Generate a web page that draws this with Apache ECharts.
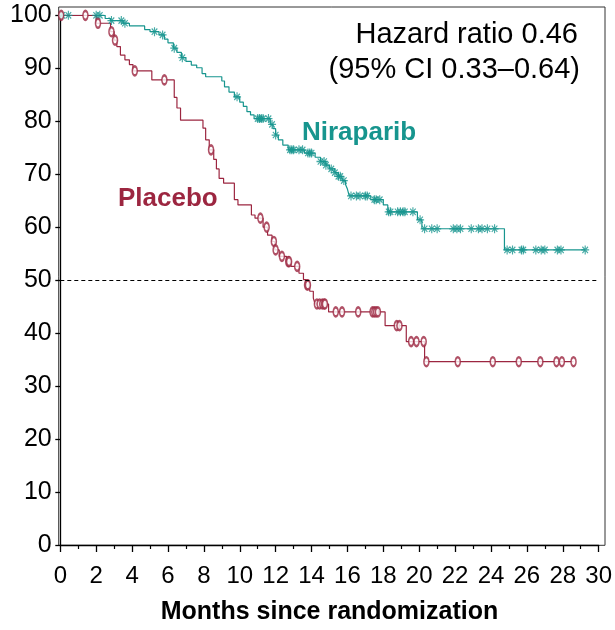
<!DOCTYPE html>
<html>
<head>
<meta charset="utf-8">
<script src="https://cdn.jsdelivr.net/npm/echarts@6/dist/echarts.min.js"></script>
<style>
  html, body { margin: 0; padding: 0; background: #fff; }
  #main { width: 615px; height: 630px; }
</style>
</head>
<body>
<div id="main"></div>
<script>
// Kaplan-Meier steps: [month, % surviving after the step]
var niraparibSteps = [
    [0, 100], [2.5, 99.4], [2.8, 99.0], [3.5, 98.5], [3.85, 98.0], [4.7, 97.3], [5.0, 96.9],
    [5.5, 96.3], [5.8, 95.5], [6.0, 94.8], [6.3, 93.8], [6.5, 93.0], [6.75, 92.0], [7.0, 91.3],
    [7.3, 90.6], [7.6, 90.1], [7.9, 89.0], [8.1, 88.4], [9.0, 87.6], [9.15, 86.5], [9.4, 85.5],
    [9.7, 84.6], [10.0, 83.6], [10.2, 82.8], [10.4, 81.8], [10.6, 81.2], [10.8, 80.5],
    [11.7, 79.4], [11.85, 78.6], [12.0, 77.4], [12.15, 76.5], [12.4, 75.5], [12.7, 74.6],
    [13.6, 74.0], [14.2, 73.2], [14.5, 72.4], [14.8, 71.7], [15.0, 71.0], [15.3, 70.3],
    [15.5, 69.6], [15.7, 68.8], [15.9, 68.0], [16.0, 67.2], [16.1, 65.9], [17.3, 65.2],
    [18.0, 64.2], [18.25, 62.9], [19.9, 61.4], [20.15, 59.7], [24.75, 55.7]
];
var niraparibEnd = 29.25;
var niraparibCensored = [
    0.1, 0.45, 2.0, 2.2, 2.85, 3.4, 3.6, 5.25, 5.7, 6.35, 6.8, 9.85, 11.0, 11.1, 11.2, 11.3,
    11.6, 11.8, 12.0, 12.8, 12.9, 13.0, 13.3, 13.5, 13.8, 13.9, 14.0, 14.5, 14.7, 14.8, 15.1,
    15.3, 15.5, 15.6, 15.8, 16.2, 16.5, 16.7, 17.0, 17.1, 17.5, 17.6, 17.8, 18.3, 18.4, 18.8,
    18.95, 19.1, 19.2, 19.65, 20.05, 20.3, 20.7, 21.0, 21.9, 22.1, 22.3, 22.9, 23.3, 23.5,
    23.8, 24.2, 24.9, 25.2, 25.7, 25.8, 26.5, 26.8, 27.0, 27.7, 27.9, 29.25
];

var placeboSteps = [
    [0, 100], [2.0, 98.5], [2.8, 96.9], [3.0, 95.3], [3.15, 94.1], [3.35, 92.5], [3.6, 91.6],
    [3.85, 90.7], [4.05, 89.5], [5.1, 87.8], [6.35, 84.5], [6.5, 82.5], [6.7, 80.2],
    [7.95, 78.7], [8.1, 76.5], [8.3, 74.6], [8.55, 72.8], [8.7, 71.0], [8.85, 69.2],
    [9.1, 68.3], [9.7, 65.2], [9.9, 64.2], [10.65, 62.3], [10.85, 61.7], [11.3, 60.0],
    [11.55, 58.5], [11.8, 57.3], [11.95, 55.7], [12.2, 54.5], [12.6, 53.5], [12.85, 52.6],
    [13.3, 51.3], [13.55, 50.1], [13.7, 49.1], [13.9, 47.9], [14.1, 46.6], [14.2, 45.5],
    [14.95, 44.0], [18.1, 41.4], [19.28, 38.4], [20.3, 34.6]
];
var placeboEnd = 28.6;
var placeboCensored = [
    0.05, 1.4, 2.1, 2.85, 3.05, 4.15, 5.8, 8.4, 11.15, 11.5, 11.9, 12.0, 12.35, 12.7, 12.75,
    13.2, 13.75, 13.8, 14.3, 14.45, 14.6, 14.7, 14.75, 15.35, 15.7, 16.6, 17.4, 17.5, 17.6,
    17.7, 18.75, 18.9, 19.55, 19.85, 20.25, 20.4, 22.15, 24.1, 25.55, 26.75, 27.65, 27.95, 28.6
];

var tealColor = '#17958e';
var redColor = '#9c2640';

// value of a step curve at time t
function survivalAt(steps, t) {
    var v = steps[0][1];
    for (var i = 0; i < steps.length; i++) {
        if (steps[i][0] <= t) v = steps[i][1];
    }
    return v;
}

function curveData(steps, end) {
    var d = steps.slice();
    d.push([end, survivalAt(steps, end)]);
    return d;
}

function censorData(steps, times) {
    return times.map(function (t) { return [t, survivalAt(steps, t)]; });
}

var myChart = echarts.init(document.getElementById('main'));

var option = {
    animation: false,
    grid: { left: 60.3, right: 13.3, top: 15.3, bottom: 84.7 },
    xAxis: {
        type: 'value', min: 0, max: 30, interval: 2,
        name: 'Months since randomization',
        nameLocation: 'middle', nameGap: 55,
        nameTextStyle: { fontFamily: 'Liberation Sans', fontWeight: 'bold', fontSize: 25, color: '#000' },
        axisLine: { lineStyle: { color: '#000', width: 1.3 } },
        axisTick: { length: 7, lineStyle: { color: '#000', width: 1.3 } },
        minorTick: { show: true, splitNumber: 2, length: 4, lineStyle: { color: '#000', width: 1.2 } },
        axisLabel: { fontFamily: 'Liberation Sans', fontSize: 24, color: '#000', margin: 19 },
        splitLine: { show: false }
    },
    yAxis: {
        type: 'value', min: 0, max: 100, interval: 10, offset: 1.6,
        axisLine: { show: true, lineStyle: { color: '#000', width: 1.3 } },
        axisTick: { show: true, length: 5, lineStyle: { color: '#000', width: 1.3 } },
        axisLabel: { fontFamily: 'Liberation Sans', fontSize: 25, color: '#000', margin: 7 },
        splitLine: { show: false }
    },
    graphic: [
        {
            type: 'rect', silent: true, z: 0,
            shape: { x: 58.7, y: 7, width: 546.3, height: 538.3 },
            style: { fill: 'none', stroke: '#333', lineWidth: 1 }
        },
        {
            type: 'text', right: 615 - 578, top: 20,
            style: { text: 'Hazard ratio 0.46', fontFamily: 'Liberation Sans', fontSize: 29, fill: '#000', textAlign: 'right' }
        },
        {
            type: 'text', right: 615 - 580, top: 55,
            style: { text: '(95% CI 0.33\u20130.64)', fontFamily: 'Liberation Sans', fontSize: 29, fill: '#000', textAlign: 'right' }
        },
        {
            type: 'text', left: 302, top: 120,
            style: { text: 'Niraparib', fontFamily: 'Liberation Sans', fontWeight: 'bold', fontSize: 26, fill: tealColor }
        },
        {
            type: 'text', left: 118, top: 186,
            style: { text: 'Placebo', fontFamily: 'Liberation Sans', fontWeight: 'bold', fontSize: 26, fill: redColor }
        }
    ],
    series: [
        {
            name: 'Niraparib', type: 'line', step: 'end', symbol: 'none',
            data: curveData(niraparibSteps, niraparibEnd),
            lineStyle: { color: tealColor, width: 1.2 },
            markLine: {
                silent: true, symbol: 'none', label: { show: false },
                lineStyle: { color: '#000', type: [4, 3], width: 1 },
                data: [{ yAxis: 50 }]
            }
        },
        {
            name: 'Placebo', type: 'line', step: 'end', symbol: 'none',
            data: curveData(placeboSteps, placeboEnd),
            lineStyle: { color: redColor, width: 1.2 }
        },
        {
            name: 'Niraparib censored', type: 'scatter',
            symbol: 'path://M5 0 L5 10 M0 5 L10 5 M1.5 1.5 L8.5 8.5 M8.5 1.5 L1.5 8.5',
            symbolSize: [8, 9],
            data: censorData(niraparibSteps, niraparibCensored),
            itemStyle: { color: tealColor, borderColor: tealColor, borderWidth: 1.2 },
            z: 3
        },
        {
            name: 'Placebo censored', type: 'scatter',
            symbol: 'emptyCircle', symbolSize: [5, 9],
            data: censorData(placeboSteps, placeboCensored),
            itemStyle: { color: redColor, borderColor: redColor, borderWidth: 1 },
            z: 3
        }
    ]
};

myChart.setOption(option);
</script>
</body>
</html>
